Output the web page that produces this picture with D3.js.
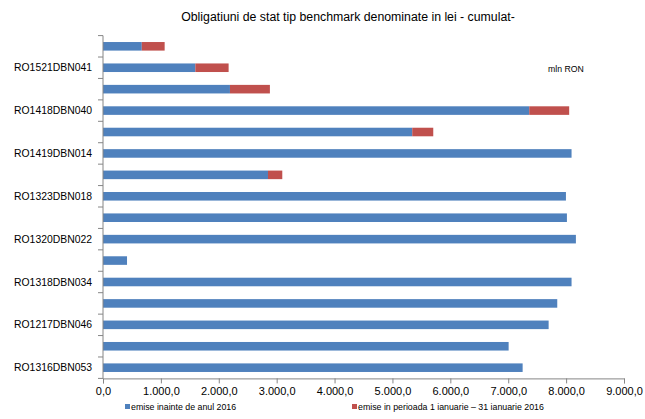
<!DOCTYPE html>
<html><head><meta charset="utf-8">
<script src="https://cdn.jsdelivr.net/npm/d3@7"></script>
<style>body{margin:0;background:#fff}svg{display:block;font-family:"Liberation Sans",Arial,sans-serif}</style>
</head><body>
<svg id="c" width="645" height="419"></svg>
<script>
// categories top to bottom; Excel shows only every other label
const categories = ["", "RO1521DBN041", "", "RO1418DBN040", "", "RO1419DBN014", "", "RO1323DBN018",
  "", "RO1320DBN022", "", "RO1318DBN034", "", "RO1217DBN046", "", "RO1316DBN053"];
const beforeValues = [670, 1595, 2193, 7363, 5342, 8094, 2850, 7997, 8014, 8169, 415, 8094, 7847, 7698, 7007, 7249];
const januaryValues = [395, 575, 690, 690, 363, 0, 247, 0, 0, 0, 0, 0, 0, 0, 0, 0];
const xTicks = [0, 1000, 2000, 3000, 4000, 5000, 6000, 7000, 8000, 9000];
const seriesNames = ["emise inainte de anul 2016", "emise in perioada 1 ianuarie \u2013 31  ianuarie 2016"];
const title = "Obligatiuni de stat tip benchmark denominate in lei - cumulat-";
const unitLabel = "mln RON";

const svg = d3.select("#c");
const colors = ["#4F81BD", "#C0504D"];
const x = d3.scaleLinear().domain([0, 9000]).range([103, 624]);
const idx = d3.range(categories.length);
const y = d3.scaleBand().domain(idx).range([35.6, 378.4]).paddingInner(0.6).paddingOuter(0.3);

const fmt = v => d3.format(",.1f")(v).replace(/,/g, "#").replace(".", ",").replace(/#/g, ".");

svg.append("text").attr("x", 348).attr("y", 21).attr("text-anchor", "middle")
  .attr("font-size", 12.3).attr("fill", "#000").text(title);

const data = idx.map(i => ({i, a: beforeValues[i], b: januaryValues[i]}));
const g = svg.append("g");
g.selectAll("rect.a").data(data).join("rect").attr("class", "a")
  .attr("x", x(0)).attr("y", d => y(d.i)).attr("height", y.bandwidth())
  .attr("width", d => x(d.a) - x(0)).attr("fill", colors[0]);
g.selectAll("rect.b").data(data.filter(d => d.b > 0)).join("rect").attr("class", "b")
  .attr("x", d => x(d.a)).attr("y", d => y(d.i)).attr("height", y.bandwidth())
  .attr("width", d => x(d.a + d.b) - x(d.a)).attr("fill", colors[1]);

// y axis
const axisColor = "#868686";
svg.append("line").attr("x1", 103).attr("x2", 103).attr("y1", 35.6).attr("y2", 378.4).attr("stroke", axisColor);
d3.range(categories.length + 1).forEach(k => {
  const yy = 35.6 + k * (378.4 - 35.6) / categories.length;
  svg.append("line").attr("x1", 98).attr("x2", 103).attr("y1", yy).attr("y2", yy).attr("stroke", axisColor);
});
svg.selectAll("text.cat").data(data).join("text").attr("class", "cat")
  .attr("x", 92).attr("y", d => y(d.i) + y.bandwidth() / 2).attr("dy", "0.35em")
  .attr("text-anchor", "end").attr("font-size", 10.4).attr("fill", "#000")
  .text(d => categories[d.i]);

// x axis
const xa = svg.append("g").attr("transform", "translate(0,378.4)")
  .call(d3.axisBottom(x).tickValues(xTicks).tickSize(5).tickPadding(4).tickFormat(fmt));
xa.select(".domain").attr("stroke", axisColor);
xa.selectAll(".tick line").attr("stroke", axisColor);
xa.selectAll("text").attr("font-size", 11).attr("fill", "#000").attr("font-family", "Liberation Sans, Arial, sans-serif");

svg.append("text").attr("x", 548).attr("y", 72).attr("font-size", 8.7).attr("fill", "#000").text(unitLabel);

// legend
const legX = [125, 352];
seriesNames.forEach((n, i) => {
  svg.append("rect").attr("x", legX[i]).attr("y", 404).attr("width", 5).attr("height", 5).attr("fill", colors[i]);
  svg.append("text").attr("x", legX[i] + 6).attr("y", 409.5).attr("font-size", 8.8).attr("fill", "#000").text(n);
});
</script>
</body></html>
